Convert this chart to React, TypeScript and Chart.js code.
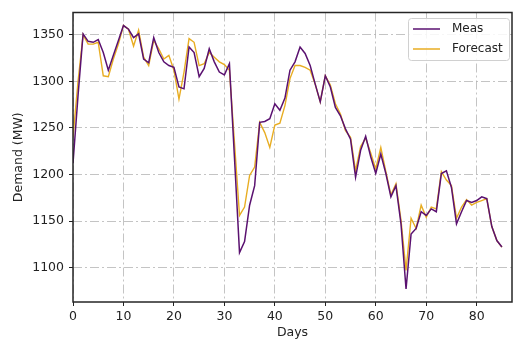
import React, { useEffect, useRef } from "react";
import { Chart, registerables } from "chart.js";

Chart.register(...registerables);

const days = [
  0, 1, 2, 3, 4, 5, 6, 7, 8, 9, 10, 11, 12, 13, 14, 15, 16, 17, 18, 19, 20,
  21, 22, 23, 24, 25, 26, 27, 28, 29, 30, 31, 32, 33, 34, 35, 36, 37, 38, 39,
  40, 41, 42, 43, 44, 45, 46, 47, 48, 49, 50, 51, 52, 53, 54, 55, 56, 57, 58,
  59, 60, 61, 62, 63, 64, 65, 66, 67, 68, 69, 70, 71, 72, 73, 74, 75, 76, 77,
  78, 79, 80, 81, 82, 83, 84, 85,
];

const meas = [
  1212, 1285, 1351, 1343, 1342, 1345, 1331, 1312, 1328, 1344, 1360, 1356,
  1347, 1351, 1324, 1320, 1347, 1331, 1321, 1317, 1315, 1294, 1292, 1337,
  1331, 1305, 1314, 1335, 1321, 1310, 1307, 1319, 1218, 1116, 1128, 1167,
  1188, 1256, 1257, 1260, 1276, 1269, 1282, 1312, 1321, 1337, 1330, 1317,
  1297, 1278, 1306, 1294, 1272, 1263, 1249, 1238, 1197, 1226, 1241, 1219,
  1201, 1222, 1201, 1176, 1188, 1147, 1077, 1136, 1142, 1160, 1156, 1163,
  1160, 1201, 1204, 1186, 1147, 1160, 1172, 1170, 1172, 1176, 1174, 1144,
  1129, 1122,
];

const forecast = [
  1240, 1300, 1350, 1340, 1340, 1342, 1306, 1305, 1324, 1340, 1360, 1356,
  1338, 1355, 1326, 1317, 1344, 1335, 1324, 1328, 1312, 1281, 1310, 1346,
  1342, 1317, 1319, 1331, 1326, 1321, 1318, 1312, 1234, 1156, 1165, 1199,
  1208, 1256, 1245, 1229, 1253, 1255, 1274, 1303, 1317, 1317, 1315, 1312,
  1297, 1278, 1306, 1296, 1276, 1265, 1247, 1240, 1204, 1230, 1239, 1223,
  1206, 1229, 1203, 1178, 1190, 1151, 1097, 1153, 1142, 1167, 1154, 1165,
  1163, 1203, 1194, 1188, 1153, 1165, 1173, 1167, 1170, 1172, 1174, 1144,
  1129, 1122,
];

const xTicks = [0, 10, 20, 30, 40, 50, 60, 70, 80];
const yTicks = [1100, 1150, 1200, 1250, 1300, 1350];
const seriesNames = ["Meas", "Forecast"];
const seriesColors = ["#5a1170", "#e8ad22"];

const FONT = "'DejaVu Sans', sans-serif";

export default function App() {
  const ref = useRef<HTMLCanvasElement>(null);

  useEffect(() => {
    if (!ref.current) return;

    const framePlugin = {
      id: "frameLegend",
      afterDatasetsDraw(chart: any) {
        const { ctx, chartArea: a } = chart;
        ctx.save();
        ctx.strokeStyle = "#262626";
        ctx.lineWidth = 1.5;
        ctx.strokeRect(a.left, a.top, a.right - a.left, a.bottom - a.top);

        // legend
        const bx = 408.5, by = 18.5, bw = 101, bh = 42, r = 3;
        ctx.beginPath();
        ctx.moveTo(bx + r, by);
        ctx.lineTo(bx + bw - r, by);
        ctx.quadraticCurveTo(bx + bw, by, bx + bw, by + r);
        ctx.lineTo(bx + bw, by + bh - r);
        ctx.quadraticCurveTo(bx + bw, by + bh, bx + bw - r, by + bh);
        ctx.lineTo(bx + r, by + bh);
        ctx.quadraticCurveTo(bx, by + bh, bx, by + bh - r);
        ctx.lineTo(bx, by + r);
        ctx.quadraticCurveTo(bx, by, bx + r, by);
        ctx.closePath();
        ctx.fillStyle = "rgba(255,255,255,0.85)";
        ctx.fill();
        ctx.strokeStyle = "#d0d0d0";
        ctx.lineWidth = 1;
        ctx.stroke();

        ctx.font = `12px ${FONT}`;
        ctx.textBaseline = "middle";
        ctx.textAlign = "left";
        seriesNames.forEach((name, i) => {
          const y = 29 + i * 20;
          ctx.strokeStyle = seriesColors[i];
          ctx.lineWidth = 1.5;
          ctx.beginPath();
          ctx.moveTo(413, y);
          ctx.lineTo(440, y);
          ctx.stroke();
          ctx.fillStyle = "#222";
          ctx.fillText(name, 452, y);
        });
        ctx.restore();
      },
    };

    const chart = new Chart(ref.current, {
      type: "line",
      data: {
        datasets: [
          {
            label: seriesNames[0],
            data: days.map((d, i) => ({ x: d, y: meas[i] })),
            borderColor: seriesColors[0],
            borderWidth: 1.5,
            pointRadius: 0,
            tension: 0,
            fill: false,
          },
          {
            label: seriesNames[1],
            data: days.map((d, i) => ({ x: d, y: forecast[i] })),
            borderColor: seriesColors[1],
            borderWidth: 1.4,
            pointRadius: 0,
            tension: 0,
            fill: false,
          },
        ],
      },
      options: {
        responsive: false,
        animation: false,
        events: [],
        layout: { padding: { top: 12, right: 1, left: 0, bottom: 0 } },
        plugins: {
          legend: { display: false },
          tooltip: { enabled: false },
        },
        scales: {
          x: {
            type: "linear",
            min: 0,
            max: 87,
            afterBuildTicks: (s: any) => {
              s.ticks = xTicks.map((v) => ({ value: v }));
            },
            afterFit: (s: any) => {
              s.height = 38;
            },
            grid: {
              color: "#b5b5b5",
              lineWidth: 0.8,
              tickColor: "#222",
              tickLength: 4,
              tickBorderDash: [],
              tickWidth: 1,
            },
            border: { display: false, dash: [9, 3, 2, 3] },
            ticks: {
              color: "#222",
              font: { family: FONT, size: 12.5 },
              padding: 3,
              maxRotation: 0,
              callback: (v: any) => String(v),
            },
            title: {
              display: true,
              text: "Days",
              color: "#222",
              font: { family: FONT, size: 12.5 },
              padding: { top: 0, bottom: 0 },
            },
          },
          y: {
            type: "linear",
            min: 1063,
            max: 1374,
            afterBuildTicks: (s: any) => {
              s.ticks = yTicks.map((v) => ({ value: v }));
            },
            afterFit: (s: any) => {
              s.width = 73;
            },
            grid: {
              color: "#b5b5b5",
              lineWidth: 0.8,
              tickColor: "#222",
              tickLength: 4,
              tickBorderDash: [],
              tickWidth: 1,
            },
            border: { display: false, dash: [9, 3, 2, 3] },
            ticks: {
              color: "#222",
              font: { family: FONT, size: 12.5 },
              padding: 5,
              callback: (v: any) => String(v),
            },
            title: {
              display: true,
              text: "Demand (MW)",
              color: "#222",
              font: { family: FONT, size: 12.5 },
              padding: { top: 11, bottom: 0 },
            },
          },
        },
      },
      plugins: [framePlugin],
    });

    return () => chart.destroy();
  }, []);

  return (
    <div style={{ position: "fixed", left: 0, top: 0, width: 513, height: 340, background: "#fff" }}>
      <canvas ref={ref} width={513} height={340} style={{ display: "block" }} />
    </div>
  );
}
